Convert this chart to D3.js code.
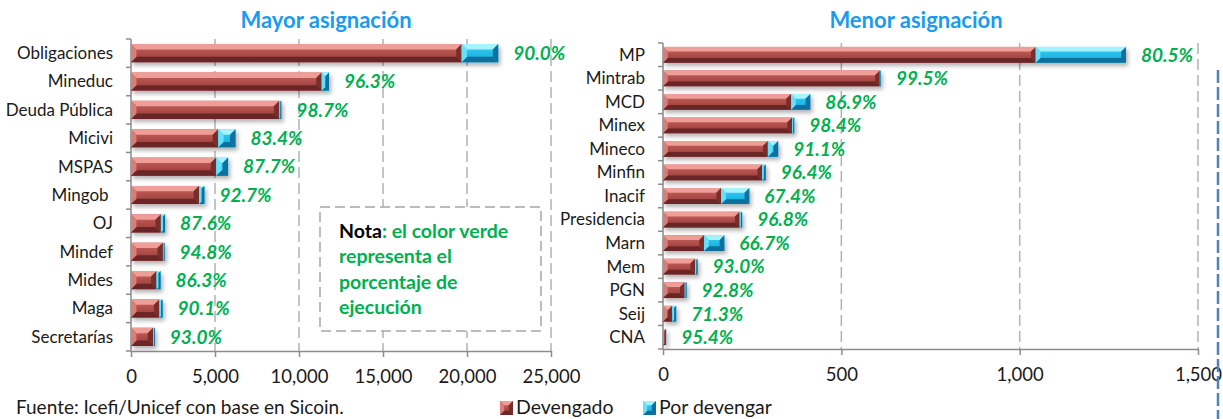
<!DOCTYPE html>
<html>
  <head>
    <meta charset="utf-8">
    <title>Mayor y menor asignación</title>
    <script src="https://cdn.jsdelivr.net/npm/d3@7"></script>
    <style>
      body { margin: 0; background: #fff; }
      svg { display: block; font-family: Lato, 'Open Sans', sans-serif; }
      .cat { white-space: pre; }
    </style>
  </head>
  <body>
    <svg id="chart" width="1223" height="419"></svg>
    <script>
// Mayor asignación (millones de quetzales)
let mayorCats = ['Obligaciones', 'Mineduc', 'Deuda Pública', 'Micivi', 'MSPAS', 'Mingob ',
  'OJ', 'Mindef', 'Mides', 'Maga', 'Secretarías'];
let mayorDevengado = [19680, 11350, 8830, 5190, 5070, 4050, 1780, 1900, 1520, 1690, 1320];
let mayorPorDevengar = [2180, 440, 120, 1030, 710, 320, 250, 100, 240, 190, 100];
let mayorPct = ['90.0%', '96.3%', '98.7%', '83.4%', '87.7%', '92.7%', '87.6%', '94.8%',
  '86.3%', '90.1%', '93.0%'];
let mayorTicks = [0, 5000, 10000, 15000, 20000, 25000];

// Menor asignación
let menorCats = ['MP', 'Mintrab', 'MCD', 'Minex', 'Mineco', 'Minfin', 'Inacif', 'Presidencia',
  'Marn', 'Mem', 'PGN', 'Seij', 'CNA'];
let menorDevengado = [1045, 608, 359, 362, 294, 278, 163, 215, 115, 90, 61, 26, 8.6];
let menorPorDevengar = [253, 3, 54, 6, 29, 10, 79, 7, 57, 7, 5, 11, 0.4];
let menorPct = ['80.5%', '99.5%', '86.9%', '98.4%', '91.1%', '96.4%', '67.4%', '96.8%',
  '66.7%', '93.0%', '92.8%', '71.3%', '95.4%'];
let menorTicks = [0, 500, 1000, 1500];

let green = '#00b050';
let titleBlue = '#1a9bf0';
let axisGray = '#8c8c8c';

// colours for the bevelled bar faces: top, face-top, face-bottom, bottom, left, right
let palettes = {
  dev: ['#ef9d97', '#c9645f', '#963936', '#6a2725', '#d97d78', '#782d2a'],
  por: ['#a6f3ff', '#36d3f6', '#13a6da', '#0a6f9c', '#66e0fb', '#0b6f9f']
};

let svg = d3.select('#chart');
let defs = svg.append('defs');

Object.keys(palettes).forEach(function(key) {
  let p = palettes[key];
  let grad = defs.append('linearGradient')
    .attr('id', 'face-' + key)
    .attr('x1', 0).attr('x2', 0).attr('y1', 0).attr('y2', 1);
  grad.append('stop').attr('offset', '0%').attr('stop-color', p[1]);
  grad.append('stop').attr('offset', '100%').attr('stop-color', p[2]);
});

defs.append('filter')
  .attr('id', 'shadow')
  .attr('x', '-10%').attr('y', '-30%').attr('width', '130%').attr('height', '180%')
  .append('feDropShadow')
  .attr('dx', 2).attr('dy', 3).attr('stdDeviation', 2)
  .attr('flood-color', '#000').attr('flood-opacity', 0.3);

function bevelSegment(g, x, y, w, h, key) {
  // draws one bar segment with an Excel-like bevel
  if (w <= 0) return;
  let p = palettes[key];
  let b = Math.min(h * 0.3, w / 2, 7);
  let seg = g.append('g');
  seg.append('rect')
    .attr('x', x).attr('y', y).attr('width', w).attr('height', h)
    .attr('fill', 'url(#face-' + key + ')');
  let polys = [
    [[x, y], [x + w, y], [x + w - b, y + b], [x + b, y + b], p[0]],
    [[x, y + h], [x + w, y + h], [x + w - b, y + h - b], [x + b, y + h - b], p[3]],
    [[x, y], [x + b, y + b], [x + b, y + h - b], [x, y + h], p[4]],
    [[x + w, y], [x + w - b, y + b], [x + w - b, y + h - b], [x + w, y + h], p[5]]
  ];
  polys.forEach(function(pt) {
    seg.append('polygon')
      .attr('points', pt.slice(0, 4).map(d => d.join(',')).join(' '))
      .attr('fill', pt[4]);
  });
}

function drawPanel(opts) {
  let x = d3.scaleLinear()
    .domain([opts.ticks[0], opts.ticks[opts.ticks.length - 1]])
    .range([opts.left, opts.right]);
  let y = d3.scaleBand()
    .domain(opts.cats)
    .range([opts.top, opts.bottom])
    .paddingInner(opts.pad)
    .paddingOuter(opts.pad / 2);

  let g = svg.append('g');

  // title
  g.append('text')
    .attr('x', opts.titleX)
    .attr('y', 28)
    .attr('text-anchor', 'middle')
    .attr('font-size', 22)
    .attr('font-weight', 'bold')
    .attr('fill', titleBlue)
    .text(opts.title);

  // dashed gridlines
  g.selectAll('.grid')
    .data(opts.ticks.slice(1))
    .enter()
    .append('line')
    .attr('x1', d => x(d)).attr('x2', d => x(d))
    .attr('y1', opts.top).attr('y2', opts.bottom)
    .attr('stroke', '#b3b3b3')
    .attr('stroke-width', 1.5)
    .attr('stroke-dasharray', '11,5');

  // x axis
  let xAxis = d3.axisBottom(x)
    .tickValues(opts.ticks)
    .tickFormat(d3.format(','))
    .tickSize(6)
    .tickSizeOuter(0);
  let ax = g.append('g')
    .attr('transform', 'translate(0,' + opts.bottom + ')')
    .call(xAxis);
  ax.select('.domain').attr('stroke', axisGray).attr('stroke-width', 1.5);
  ax.selectAll('.tick line').attr('stroke', axisGray).attr('stroke-width', 1.5);
  ax.selectAll('.tick text')
    .attr('y', 19)
    .attr('font-size', 18.5)
    .attr('font-family', 'Lato, sans-serif')
    .attr('fill', '#1a1a1a');

  // y axis: ticks sit between categories
  let bounds = d3.range(opts.cats.length + 1)
    .map(i => opts.top + i * (opts.bottom - opts.top) / opts.cats.length);
  g.append('line')
    .attr('x1', opts.left).attr('x2', opts.left)
    .attr('y1', opts.top).attr('y2', opts.bottom)
    .attr('stroke', axisGray).attr('stroke-width', 1.5);
  g.selectAll('.ytick')
    .data(bounds)
    .enter()
    .append('line')
    .attr('x1', opts.left - 5).attr('x2', opts.left)
    .attr('y1', d => d).attr('y2', d => d)
    .attr('stroke', axisGray).attr('stroke-width', 1.5);

  g.selectAll('.cat')
    .data(opts.cats)
    .enter()
    .append('text')
    .attr('class', 'cat')
    .attr('x', opts.left - 18)
    .attr('y', d => y(d) + y.bandwidth() / 2)
    .attr('dy', '0.35em')
    .attr('text-anchor', 'end')
    .attr('font-size', 17)
    .attr('fill', '#1a1a1a')
    .text(d => d);

  // stacked bars
  let bars = g.append('g').attr('filter', 'url(#shadow)');
  opts.cats.forEach(function(c, i) {
    let dev = opts.dev[i], por = opts.por[i];
    let bg = bars.append('g');
    bevelSegment(bg, x(0), y(c), x(dev) - x(0), y.bandwidth(), 'dev');
    bevelSegment(bg, x(dev), y(c), x(dev + por) - x(dev), y.bandwidth(), 'por');
  });

  // execution percentage
  g.selectAll('.pct')
    .data(opts.cats)
    .enter()
    .append('text')
    .attr('x', (d, i) => x(opts.dev[i] + opts.por[i]) + 15)
    .attr('y', d => y(d) + y.bandwidth() / 2)
    .attr('dy', '0.36em')
    .attr('font-size', 19)
    .attr('font-weight', 'bold')
    .attr('font-style', 'italic')
    .attr('fill', green)
    .text((d, i) => opts.pct[i]);

  return x;
}

drawPanel({
  title: 'Mayor asignación', titleX: 326,
  cats: mayorCats, dev: mayorDevengado, por: mayorPorDevengar, pct: mayorPct, ticks: mayorTicks,
  left: 131, right: 551, top: 39, bottom: 351, pad: 0.36
});

drawPanel({
  title: 'Menor asignación', titleX: 916,
  cats: menorCats, dev: menorDevengado, por: menorPorDevengar, pct: menorPct, ticks: menorTicks,
  left: 663, right: 1198, top: 43, bottom: 349, pad: 0.33
});

// note box
svg.append('rect')
  .attr('x', 320).attr('y', 207)
  .attr('width', 221).attr('height', 124)
  .attr('fill', '#fff')
  .attr('stroke', '#a6a6a6')
  .attr('stroke-width', 1.5)
  .attr('stroke-dasharray', '10,5');

let noteLines = ['el color verde', 'representa el', 'porcentaje de', 'ejecución'];
let note = svg.append('text')
  .attr('x', 339)
  .attr('font-size', 19.5)
  .attr('font-weight', 'bold')
  .attr('fill', green);
noteLines.forEach(function(line, i) {
  let t = note.append('tspan')
    .attr('x', 339)
    .attr('y', 238 + i * 25.3);
  if (i === 0) {
    t.append('tspan').attr('fill', '#000').text('Nota');
    t.append('tspan').text(': ' + line);
  } else {
    t.text(line);
  }
});

// source and legend (the reference crops them at the bottom edge)
svg.append('text')
  .attr('x', 16).attr('y', 414)
  .attr('font-size', 19)
  .attr('fill', '#1a1a1a')
  .text('Fuente: Icefi/Unicef con base en Sicoin.');

let legendItems = [
  {label: 'Devengado', key: 'dev', x: 500},
  {label: 'Por devengar', key: 'por', x: 643}
];
legendItems.forEach(function(item) {
  bevelSegment(svg, item.x, 401, 13, 14, item.key);
  svg.append('text')
    .attr('x', item.x + 16).attr('y', 414)
    .attr('font-size', 19.5)
    .attr('fill', '#1a1a1a')
    .text(item.label);
});

// dashed blue border on the right
svg.append('line')
  .attr('x1', 1218).attr('x2', 1218)
  .attr('y1', 70).attr('y2', 419)
  .attr('stroke', '#4f81bd')
  .attr('stroke-width', 2.5)
  .attr('stroke-dasharray', '13,4');
    </script>
  </body>
</html>
